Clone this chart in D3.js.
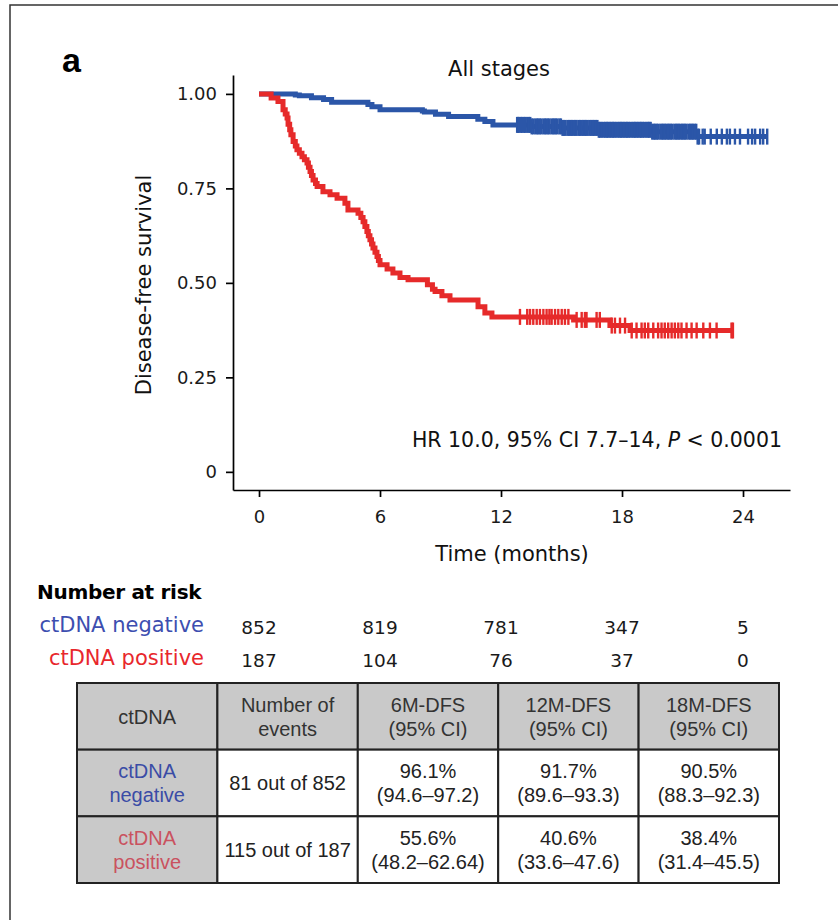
<!DOCTYPE html>
<style>
  body { margin: 0; background: #fff; }
  svg text { font-family: "DejaVu Sans", sans-serif; }
  .table text { font-family: "Liberation Sans", Arial, sans-serif; }
</style>
<body></body>
<script src="https://cdn.jsdelivr.net/npm/d3@7"></script>
<script>
  const width = 838
  const height = 920

  // Kaplan-Meier steps (time in months, survival)
  const negTimes = [0, 1.8, 2.0, 2.6, 3.2, 3.6, 5.4, 5.6, 6.0, 8.1, 8.2, 8.75, 9.4, 10.85, 11.2, 11.6, 13.5, 15.0, 16.8, 19.5, 21.7]
  const negSurv = [1.0, 0.997, 0.995, 0.990, 0.985, 0.978, 0.972, 0.966, 0.958, 0.955, 0.952, 0.946, 0.940, 0.933, 0.927, 0.918, 0.914, 0.910, 0.905, 0.900, 0.887]
  const negEnd = 25.2
  const negCensor = [12.8, 12.85, 12.9, 13.0, 13.05, 13.15, 13.2, 13.3, 13.38, 13.45, 13.52, 13.6, 13.7, 13.78, 13.85,
    13.92, 14.0, 14.1, 14.18, 14.25, 14.33, 14.4, 14.5, 14.58, 14.65, 14.72, 14.8, 14.9, 14.97, 15.05, 15.12, 15.2,
    15.3, 15.38, 15.45, 15.52, 15.6, 15.68, 15.75, 15.85, 15.92, 16.0, 16.08, 16.15, 16.22, 16.3, 16.4, 16.48, 16.55,
    16.62, 16.7, 16.78, 16.85, 16.92, 17.0, 17.1, 17.18, 17.25, 17.32, 17.4, 17.48, 17.55, 17.62, 17.7, 17.8, 17.88,
    17.95, 18.02, 18.1, 18.18, 18.25, 18.32, 18.4, 18.5, 18.58, 18.65, 18.72, 18.8, 18.88, 18.95, 19.02, 19.1, 19.2,
    19.28, 19.35, 19.42, 19.5, 19.58, 19.65, 19.72, 19.8, 19.9, 19.98, 20.05, 20.12, 20.2, 20.28, 20.35, 20.42, 20.5,
    20.6, 20.68, 20.75, 20.82, 20.9, 20.98, 21.05, 21.12, 21.2, 21.3, 21.38, 21.45, 21.52, 21.6, 21.68, 21.75,
    21.82, 22.0, 22.1, 22.4, 22.7, 22.95, 23.2, 23.35, 23.6, 23.85, 24.25, 24.45, 24.6, 24.85, 25.0]

  const posTimes = [0, 0.6, 0.94, 1.19, 1.3, 1.39, 1.44, 1.52, 1.58, 1.69, 1.8, 1.88, 2.0, 2.13, 2.25, 2.38, 2.45,
    2.53, 2.6, 2.68, 2.8, 2.88, 3.17, 3.52, 3.87, 4.26, 4.41, 4.91, 5.05, 5.16, 5.25, 5.35, 5.42, 5.5, 5.58, 5.65,
    5.75, 5.85, 5.92, 6.0, 6.35, 6.64, 6.99, 7.39, 8.35, 8.6, 8.73, 9.07, 9.47, 10.86, 11.2, 11.55, 15.6, 17.4, 18.4]
  const posSurv = [1.0, 0.989, 0.980, 0.958, 0.947, 0.936, 0.920, 0.905, 0.892, 0.874, 0.862, 0.852, 0.843, 0.834,
    0.826, 0.817, 0.806, 0.795, 0.784, 0.772, 0.763, 0.755, 0.741, 0.733, 0.724, 0.711, 0.693, 0.684, 0.673, 0.662,
    0.649, 0.636, 0.625, 0.614, 0.603, 0.592, 0.581, 0.570, 0.559, 0.548, 0.537, 0.526, 0.514, 0.508, 0.495, 0.483,
    0.477, 0.466, 0.455, 0.437, 0.420, 0.410, 0.402, 0.387, 0.374]
  const posEnd = 23.5
  const posCensor = [12.94, 13.3, 13.44, 13.6, 13.77, 13.93, 14.1, 14.26, 14.4, 14.51, 14.68, 14.84, 15.01, 15.17,
    15.34, 15.75, 16.0, 16.16, 16.24, 16.74, 16.9, 17.49, 17.65, 17.9, 18.15, 18.48, 18.72, 18.97, 19.13, 19.3,
    19.55, 19.79, 19.96, 20.12, 20.29, 20.46, 20.62, 20.79, 20.95, 21.2, 21.45, 21.7, 22.03, 22.36, 22.69, 23.43]

  const xTicks = [0, 6, 12, 18, 24]
  const yTicks = [0, 0.25, 0.5, 0.75, 1]

  const riskLabels = ["ctDNA negative", "ctDNA positive"]
  const riskNeg = [852, 819, 781, 347, 5]
  const riskPos = [187, 104, 76, 37, 0]

  const tableHeader = ["ctDNA", "Number of\nevents", "6M-DFS\n(95% CI)", "12M-DFS\n(95% CI)", "18M-DFS\n(95% CI)"]
  const tableNeg = ["ctDNA\nnegative", "81 out of 852", "96.1%\n(94.6–97.2)", "91.7%\n(89.6–93.3)", "90.5%\n(88.3–92.3)"]
  const tablePos = ["ctDNA\npositive", "115 out of 187", "55.6%\n(48.2–62.64)", "40.6%\n(33.6–47.6)", "38.4%\n(31.4–45.5)"]

  const blue = "#2b56a8"
  const red = "#e62a2a"

  const svg = d3.select("body").append("svg")
    .attr("width", width)
    .attr("height", height)

  // frame (top and left edges visible)
  svg.append("path")
    .attr("d", "M10,920V5H838")
    .attr("fill", "none")
    .attr("stroke", "#333")
    .attr("stroke-width", 1.5)

  svg.append("text")
    .attr("x", 62).attr("y", 72)
    .style("font-family", "Liberation Sans, Arial, sans-serif")
    .style("font-weight", "bold")
    .style("font-size", "34px")
    .text("a")

  const x = d3.scaleLinear().domain([-1.29, 26.33]).range([233, 790])
  const y = d3.scaleLinear().domain([-0.048, 1.05]).range([490, 75])

  const xAxis = d3.axisBottom(x).tickValues(xTicks).tickSize(7).tickPadding(13).tickSizeOuter(0)
  const yAxis = d3.axisLeft(y).tickValues(yTicks).tickSize(7).tickPadding(9).tickSizeOuter(0)
    .tickFormat(d => d === 0 ? "0" : d3.format(".2f")(d))

  svg.append("g")
    .attr("transform", `translate(0, ${y.range()[0]})`)
    .call(xAxis)
  svg.append("g")
    .attr("transform", `translate(${x.range()[0]}, 0)`)
    .call(yAxis)

  svg.selectAll(".tick text")
    .style("font-family", "DejaVu Sans, sans-serif")
    .style("font-size", "18px")
    .attr("fill", "#1a1a1a")
  svg.selectAll(".domain, .tick line")
    .attr("stroke", "#000")
    .attr("stroke-width", 1.7)

  svg.append("text")
    .attr("x", 499).attr("y", 76)
    .attr("text-anchor", "middle")
    .style("font-size", "21px")
    .attr("fill", "#111")
    .text("All stages")

  svg.append("text")
    .attr("transform", "translate(151, 285) rotate(-90)")
    .attr("text-anchor", "middle")
    .style("font-size", "21px")
    .attr("fill", "#111")
    .text("Disease-free survival")

  svg.append("text")
    .attr("x", 512).attr("y", 561)
    .attr("text-anchor", "middle")
    .style("font-size", "21px")
    .attr("fill", "#111")
    .text("Time (months)")

  const hr = svg.append("text")
    .attr("x", 782).attr("y", 447)
    .attr("text-anchor", "end")
    .style("font-size", "20.5px")
    .attr("fill", "#111")
  hr.append("tspan").text("HR 10.0, 95% CI 7.7–14, ")
  hr.append("tspan").style("font-style", "italic").text("P")
  hr.append("tspan").text(" < 0.0001")

  // survival curves
  const line = d3.line()
    .x(d => x(d[0]))
    .y(d => y(d[1]))
    .curve(d3.curveStepAfter)

  function survAt(times, surv, t) {
    return surv[d3.bisectRight(times, t) - 1]
  }

  function drawCurve(times, surv, end, censor, color) {
    const pts = times.map((t, i) => [t, surv[i]])
    pts.push([end, surv[surv.length - 1]])

    const g = svg.append("g")
    g.append("path")
      .attr("d", line(pts))
      .attr("fill", "none")
      .attr("stroke", color)
      .attr("stroke-width", 5)

    g.selectAll("line")
      .data(censor.concat([end]))
      .enter()
      .append("line")
      .attr("x1", d => x(d))
      .attr("x2", d => x(d))
      .attr("y1", d => y(survAt(times, surv, d)) - 8)
      .attr("y2", d => y(survAt(times, surv, d)) + 8)
      .attr("stroke", color)
      .attr("stroke-width", 2.4)
  }

  drawCurve(negTimes, negSurv, negEnd, negCensor, blue)
  drawCurve(posTimes, posSurv, posEnd, posCensor, red)

  // number at risk
  svg.append("text")
    .attr("x", 37).attr("y", 599)
    .style("font-weight", "bold")
    .style("font-size", "20px")
    .style("letter-spacing", "-0.3px")
    .attr("fill", "#000")
    .text("Number at risk")

  const riskColors = ["#3d4eb0", "#e8272c"]
  const riskRows = [riskNeg, riskPos]
  const riskY = [632, 665]

  riskRows.forEach((row, r) => {
    svg.append("text")
      .attr("x", 204).attr("y", riskY[r])
      .attr("text-anchor", "end")
      .style("font-size", "21px")
      .attr("fill", riskColors[r])
      .text(riskLabels[r])

    svg.append("g").selectAll("text")
      .data(row)
      .enter()
      .append("text")
      .attr("x", (d, i) => x(xTicks[i]))
      .attr("y", riskY[r] + 2)
      .attr("text-anchor", "middle")
      .style("font-size", "18.5px")
      .attr("fill", "#1a1a1a")
      .text(d => d)
  })

  // summary table
  const rows = [tableHeader, tableNeg, tablePos]
  const col = d3.scaleBand().domain(d3.range(tableHeader.length)).range([77, 779])
  const row = d3.scaleBand().domain(d3.range(rows.length)).range([683, 883])

  const table = svg.append("g").attr("class", "table")
  const cells = rows.flatMap((r, ri) => r.map((v, ci) => ({ v, ri, ci })))

  table.selectAll("rect")
    .data(cells)
    .enter()
    .append("rect")
    .attr("x", d => col(d.ci))
    .attr("y", d => row(d.ri))
    .attr("width", col.bandwidth())
    .attr("height", row.bandwidth())
    .attr("fill", d => (d.ri === 0 || d.ci === 0) ? "#c9c9c9" : "#fff")
    .attr("stroke", "#222")
    .attr("stroke-width", 2)

  const textColor = d => {
    if (d.ci === 0 && d.ri === 1) return "#3a4ca6"
    if (d.ci === 0 && d.ri === 2) return "#c9525f"
    return d.ri === 0 ? "#333" : "#222"
  }

  table.selectAll("text.cell")
    .data(cells)
    .enter()
    .append("text")
    .attr("class", "cell")
    .attr("text-anchor", "middle")
    .style("font-size", "20px")
    .attr("fill", textColor)
    .each(function(d) {
      const lines = d.v.split("\n")
      const cx = col(d.ci) + col.bandwidth() / 2
      const cy = row(d.ri) + row.bandwidth() / 2
      d3.select(this).selectAll("tspan")
        .data(lines)
        .enter()
        .append("tspan")
        .attr("x", cx)
        .attr("y", (l, i) => cy + (i - (lines.length - 1) / 2) * 24)
        .attr("dy", "0.36em")
        .text(l => l)
    })
</script>
